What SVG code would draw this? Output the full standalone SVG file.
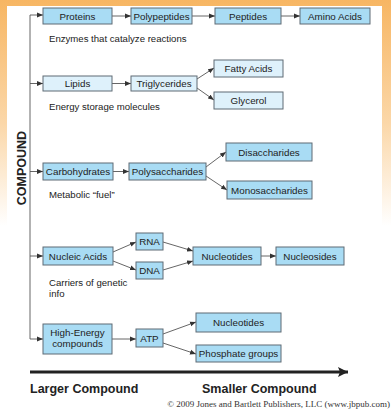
<svg xmlns="http://www.w3.org/2000/svg" width="391" height="411" viewBox="0 0 391 411">
<defs>
<linearGradient id="bg" x1="0" y1="0" x2="0" y2="1">
<stop offset="0" stop-color="#f7b663"/>
<stop offset="0.3" stop-color="#fbd7a8"/>
<stop offset="0.55" stop-color="#ffffff"/>
</linearGradient>
<marker id="ah" viewBox="0 0 6 6" refX="6" refY="3" markerWidth="6" markerHeight="6" markerUnits="userSpaceOnUse" orient="auto">
<path d="M0,0.6 L6,3 L0,5.4 Z" fill="#333"/>
</marker>
<marker id="big" viewBox="0 0 10 10" refX="10" refY="5" markerWidth="10" markerHeight="10" markerUnits="userSpaceOnUse" orient="auto">
<path d="M0,0 L10,5 L0,10 L2,5 Z" fill="#222"/>
</marker>
<style>
.b{fill:#a9dcf4;stroke:#5f6b75;stroke-width:1}
.l{fill:#def1fb;stroke:#5f6b75;stroke-width:1}
.t{font-family:"Liberation Sans",Arial,sans-serif;font-size:9.8px;fill:#222;text-anchor:middle}
.n{font-family:"Liberation Sans",Arial,sans-serif;font-size:9.6px;fill:#222}
.c{fill:none;stroke:#555;stroke-width:0.9;marker-end:url(#ah)}
.h{font-family:"Liberation Sans",Arial,sans-serif;font-size:12.5px;font-weight:bold;fill:#222}
</style>
</defs>
<rect x="0" y="0" width="391" height="411" fill="url(#bg)"/>
<rect x="7" y="6" width="375" height="405" fill="#ffffff"/>

<g id="connectors">
<path d="M30,15 V339" fill="none" stroke="#555" stroke-width="0.9"/>
<path class="c" d="M30,15 H43"/>
<path class="c" d="M30,83.5 H43"/>
<path class="c" d="M30,171.5 H43"/>
<path class="c" d="M30,256 H43"/>
<path class="c" d="M30,339 H43"/>
<path class="c" d="M112,16 H131"/>
<path class="c" d="M192,16 H215"/>
<path class="c" d="M281,16 H300"/>
<path class="c" d="M112,83.5 H131"/>
<path class="c" d="M197,79 L214,68"/>
<path class="c" d="M197,88 L214,100"/>
<path class="c" d="M113,171.5 H129"/>
<path class="c" d="M206,167 L226,152"/>
<path class="c" d="M206,176 L227,190"/>
<path class="c" d="M113,252 L136,242"/>
<path class="c" d="M113,261 L136,270"/>
<path class="c" d="M163,242 L193,251"/>
<path class="c" d="M163,270 L193,261"/>
<path class="c" d="M261,256 H276"/>
<path class="c" d="M112,339 H136"/>
<path class="c" d="M163,334 L196,322"/>
<path class="c" d="M163,343 L196,354"/>
<path d="M30,372 H348" fill="none" stroke="#222" stroke-width="3" marker-end="url(#big)"/>
</g>

<g id="proteins"><rect class="b" x="43" y="8" width="69" height="16"/><text class="t" x="77.5" y="19.5">Proteins</text></g>
<g id="polypeptides"><rect class="b" x="131" y="8" width="61" height="16"/><text class="t" x="161.5" y="19.5">Polypeptides</text></g>
<g id="peptides"><rect class="b" x="215" y="8" width="66" height="16"/><text class="t" x="248" y="19.5">Peptides</text></g>
<g id="amino-acids"><rect class="b" x="300" y="8" width="70" height="16"/><text class="t" x="335" y="19.5">Amino Acids</text></g>
<text class="n" x="49" y="42">Enzymes that catalyze reactions</text>

<g id="lipids"><rect class="l" x="43" y="76" width="69" height="15"/><text class="t" x="77.5" y="87">Lipids</text></g>
<g id="triglycerides"><rect class="l" x="131" y="76" width="66" height="15"/><text class="t" x="164" y="87">Triglycerides</text></g>
<g id="fatty-acids"><rect class="l" x="214" y="60" width="69" height="17"/><text class="t" x="248.5" y="72">Fatty Acids</text></g>
<g id="glycerol"><rect class="l" x="214" y="92" width="69" height="17"/><text class="t" x="248.5" y="104">Glycerol</text></g>
<text class="n" x="49" y="110">Energy storage molecules</text>

<text class="h" transform="translate(26,168) rotate(-90)" text-anchor="middle" font-size="12">COMPOUND</text>

<g id="carbohydrates"><rect class="b" x="43" y="163" width="70" height="17"/><text class="t" x="78" y="175">Carbohydrates</text></g>
<g id="polysaccharides"><rect class="b" x="129" y="163" width="77" height="17"/><text class="t" x="167.5" y="175">Polysaccharides</text></g>
<g id="disaccharides"><rect class="b" x="226" y="143" width="86" height="18"/><text class="t" x="269" y="155.5">Disaccharides</text></g>
<g id="monosaccharides"><rect class="b" x="227" y="181" width="85" height="18"/><text class="t" x="269.5" y="193.5">Monosaccharides</text></g>
<text class="n" x="49" y="198">Metabolic “fuel”</text>

<g id="nucleic-acids"><rect class="b" x="43" y="247" width="70" height="18"/><text class="t" x="78" y="259.5">Nucleic Acids</text></g>
<g id="rna"><rect class="b" x="136" y="233" width="27" height="17"/><text class="t" x="149.5" y="245">RNA</text></g>
<g id="dna"><rect class="b" x="136" y="262" width="27" height="17"/><text class="t" x="149.5" y="274">DNA</text></g>
<g id="nucleotides-1"><rect class="b" x="193" y="247" width="68" height="18"/><text class="t" x="227" y="259.5">Nucleotides</text></g>
<g id="nucleosides"><rect class="b" x="276" y="247" width="68" height="18"/><text class="t" x="310" y="259.5">Nucleosides</text></g>
<text class="n" x="49" y="286">Carriers of genetic</text>
<text class="n" x="49" y="297">info</text>

<g id="high-energy"><rect class="b" x="43" y="324" width="69" height="30"/><text class="t" x="77.5" y="336">High-Energy</text><text class="t" x="77.5" y="347">compounds</text></g>
<g id="atp"><rect class="b" x="136" y="329" width="27" height="18"/><text class="t" x="149.5" y="341.5">ATP</text></g>
<g id="nucleotides-2"><rect class="b" x="196" y="313" width="85" height="19"/><text class="t" x="238.5" y="326">Nucleotides</text></g>
<g id="phosphate"><rect class="b" x="196" y="345" width="85" height="17"/><text class="t" x="238.5" y="357">Phosphate groups</text></g>

<text class="h" x="30" y="393">Larger Compound</text>
<text class="h" x="202" y="393">Smaller Compound</text>
<text x="390" y="407" text-anchor="end" font-family="'Liberation Serif','Times New Roman',serif" font-size="9" fill="#333">© 2009 Jones and Bartlett Publishers, LLC (www.jbpub.com)</text>
</svg>
